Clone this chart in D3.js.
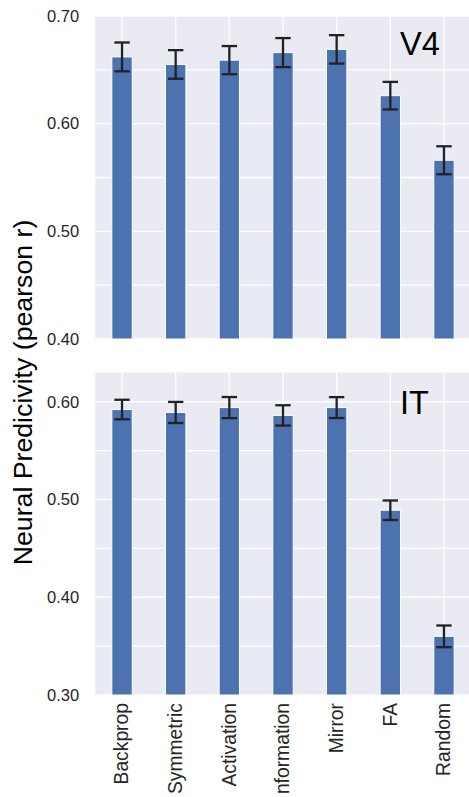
<!DOCTYPE html>
<html>
<head>
<meta charset="utf-8">
<script src="https://cdn.jsdelivr.net/npm/d3@7"></script>
<style>
  html, body { margin: 0; padding: 0; background: #ffffff; }
  svg { display: block; }
  text { font-family: "Liberation Sans", Arial, sans-serif; }
</style>
</head>
<body>
<svg id="chart" width="469" height="797"></svg>
<script>
// Learning rules compared on each brain area
const categories = ["Backprop", "Symmetric", "Activation", "nformation", "Mirror", "FA", "Random"];

// V4 neural predictivity: mean and error half-width
const v4Mean = [0.662, 0.655, 0.659, 0.666, 0.669, 0.626, 0.566];
const v4Err  = [0.0134, 0.0133, 0.0131, 0.0135, 0.0132, 0.0128, 0.0130];

// IT neural predictivity: mean and error half-width
const itMean = [0.592, 0.589, 0.594, 0.586, 0.594, 0.489, 0.360];
const itErr  = [0.0100, 0.0108, 0.0108, 0.0104, 0.0107, 0.0100, 0.0111];

// Y-axis tick labels and minor grid positions per panel
const v4Ticks = [0.40, 0.50, 0.60, 0.70];
const v4Grid  = [0.40, 0.45, 0.50, 0.55, 0.60, 0.65, 0.70];
const itTicks = [0.30, 0.40, 0.50, 0.60];
const itGrid  = [0.30, 0.35, 0.40, 0.45, 0.50, 0.55, 0.60];

const svg = d3.select("#chart");
const W = 469, H = 797;

const plotLeft = 95.2, plotRight = 470.8;
const x = d3.scalePoint().domain(categories).range([plotLeft, plotRight]).padding(0.5);
const barW = x.step() * 0.38;

const BG = "#EAEAF2", BAR = "#4C72B0", ERR = "#222222", TXT = "#262626";

const panels = [
  { name: "V4", mean: v4Mean, err: v4Err, ticks: v4Ticks, grid: v4Grid,
    domain: [0.40, 0.70], top: 16, bottom: 339, labelDy: 39 },
  { name: "IT", mean: itMean, err: itErr, ticks: itTicks, grid: itGrid,
    domain: [0.30, 0.63], top: 372.4, bottom: 695, labelDy: 41.6 }
];

panels.forEach(p => {
  const y = d3.scaleLinear().domain(p.domain).range([p.bottom, p.top]);
  const g = svg.append("g");

  // background
  g.append("rect")
    .attr("x", plotLeft).attr("y", p.top)
    .attr("width", plotRight - plotLeft).attr("height", p.bottom - p.top)
    .attr("fill", BG);

  // horizontal grid
  g.selectAll("line.hgrid").data(p.grid).join("line")
    .attr("class", "hgrid")
    .attr("x1", plotLeft).attr("x2", plotRight)
    .attr("y1", d => y(d)).attr("y2", d => y(d))
    .attr("stroke", "#ffffff").attr("stroke-width", 1.3);

  // vertical grid at category positions
  g.selectAll("line.vgrid").data(categories).join("line")
    .attr("class", "vgrid")
    .attr("x1", d => x(d)).attr("x2", d => x(d))
    .attr("y1", p.top).attr("y2", p.bottom)
    .attr("stroke", "#ffffff").attr("stroke-width", 1.3);

  // y axis tick labels
  const yAxis = d3.axisLeft(y).tickValues(p.ticks).tickFormat(d3.format(".2f"))
    .tickSize(0).tickPadding(16);
  const ax = g.append("g").attr("transform", `translate(${plotLeft},0)`).call(yAxis);
  ax.select(".domain").remove();
  ax.selectAll("text")
    .attr("fill", TXT)
    .style("font-size", "16.5px")
    .style("font-family", "'Liberation Sans', Arial, sans-serif");

  // bars
  const data = categories.map((c, i) => ({ c, m: p.mean[i], e: p.err[i] }));
  g.selectAll("rect.bar").data(data).join("rect")
    .attr("class", "bar")
    .attr("x", d => x(d.c) - barW / 2)
    .attr("y", d => y(d.m))
    .attr("width", barW)
    .attr("height", d => y(p.domain[0]) - y(d.m))
    .attr("fill", BAR)
    .attr("stroke", "#ffffff").attr("stroke-width", 1);

  // error bars
  const cap = 7.7;
  const eb = g.selectAll("g.err").data(data).join("g").attr("class", "err");
  eb.append("line")
    .attr("x1", d => x(d.c)).attr("x2", d => x(d.c))
    .attr("y1", d => y(d.m + d.e)).attr("y2", d => y(d.m - d.e))
    .attr("stroke", ERR).attr("stroke-width", 2.3);
  eb.append("line")
    .attr("x1", d => x(d.c) - cap).attr("x2", d => x(d.c) + cap)
    .attr("y1", d => y(d.m + d.e)).attr("y2", d => y(d.m + d.e))
    .attr("stroke", ERR).attr("stroke-width", 2.3);
  eb.append("line")
    .attr("x1", d => x(d.c) - cap).attr("x2", d => x(d.c) + cap)
    .attr("y1", d => y(d.m - d.e)).attr("y2", d => y(d.m - d.e))
    .attr("stroke", ERR).attr("stroke-width", 2.3);

  // panel title
  g.append("text")
    .attr("x", 400).attr("y", p.top + p.labelDy)
    .attr("fill", "#000000")
    .style("font-size", "32.5px")
    .text(p.name);
});

// category labels under the lower panel
const last = panels[1];
svg.append("g").selectAll("text").data(categories).join("text")
  .attr("transform", d => `translate(${x(d)},${last.bottom + 8}) rotate(-90)`)
  .attr("text-anchor", "end")
  .attr("dy", "0.33em")
  .attr("fill", TXT)
  .style("font-size", "19.3px")
  .text(d => d);

// shared y label
svg.append("text")
  .attr("transform", "translate(32,392.5) rotate(-90)")
  .attr("text-anchor", "middle")
  .attr("fill", "#000000")
  .style("font-size", "26.7px")
  .text("Neural Predicivity (pearson r)");
</script>
</body>
</html>
